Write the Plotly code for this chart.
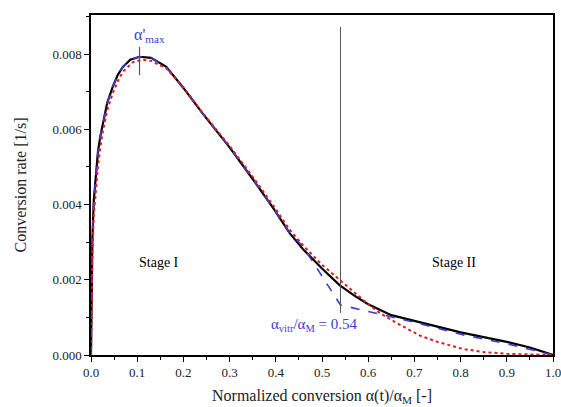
import plotly.graph_objects as go

# Black solid: measured conversion rate
black_x = [0, 0.001, 0.003, 0.006, 0.01, 0.015, 0.02, 0.025, 0.035, 0.047, 0.058, 0.069, 0.085,
           0.105, 0.13, 0.163, 0.2, 0.241, 0.3, 0.35, 0.393, 0.43, 0.46, 0.5, 0.538, 0.57, 0.6,
           0.65, 0.707, 0.8, 0.9, 0.95, 1.0]
black_y = [0, 0.0018, 0.0031, 0.0041, 0.0048, 0.0054, 0.0058, 0.0061, 0.0067, 0.00713, 0.00745,
           0.00766, 0.00785, 0.00793, 0.0079, 0.00766, 0.0071, 0.00643, 0.00552, 0.00468, 0.00393,
           0.00324, 0.0028, 0.0023, 0.00186, 0.00158, 0.00135, 0.00106, 0.00088, 0.0006, 0.00035,
           0.0002, 0]

# Red dotted: model fit
red_x = [0, 0.001, 0.003, 0.006, 0.01, 0.015, 0.02, 0.025, 0.035, 0.047, 0.058, 0.069, 0.09, 0.11,
         0.13, 0.163, 0.2, 0.241, 0.3, 0.35, 0.393, 0.43, 0.46, 0.5, 0.538, 0.57, 0.6, 0.625, 0.65,
         0.711, 0.75, 0.805, 0.85, 0.9, 0.95, 1.0]
red_y = [0, 0.0015, 0.0027, 0.0037, 0.0044, 0.005, 0.0055, 0.0059, 0.0065, 0.00696, 0.00728,
         0.00753, 0.00778, 0.00785, 0.00782, 0.00762, 0.00712, 0.00645, 0.00556, 0.00474, 0.004,
         0.00333, 0.0029, 0.0024, 0.002, 0.00166, 0.00135, 0.00112, 0.00093, 0.00052, 0.00035,
         0.00016, 0.00008, 0.00003, 0.00001, 0]

# Blue dashed: two-stage construction
blue_x = [0, 0.001, 0.003, 0.006, 0.01, 0.015, 0.02, 0.025, 0.035, 0.047, 0.058, 0.069, 0.085,
          0.105, 0.13, 0.163, 0.2, 0.241, 0.3, 0.35, 0.393, 0.43, 0.458, 0.54, 0.647, 0.707, 0.8,
          0.9, 1.0]
blue_y = [0, 0.0018, 0.0031, 0.0041, 0.0048, 0.0054, 0.0058, 0.0061, 0.0067, 0.00713, 0.00745,
          0.00766, 0.00785, 0.00793, 0.0079, 0.00766, 0.0071, 0.00643, 0.00552, 0.00468, 0.00393,
          0.00324, 0.0029, 0.00133, 0.00101, 0.00085, 0.00055, 0.0003, 0]

x_vitr = 0.54
vline_y = [0.00112, 0.00872]
x_amax = 0.105
amax_y = [0.00744, 0.00819]

SERIF = "Liberation Serif, Times New Roman, serif"
BLUE = "#3b3bd0"

fig = go.Figure()
fig.add_trace(go.Scatter(x=black_x, y=black_y, mode="lines",
                         line=dict(color="black", width=2.2)))
fig.add_trace(go.Scatter(x=blue_x, y=blue_y, mode="lines",
                         line=dict(color=BLUE, width=1.6, dash="dash")))
fig.add_trace(go.Scatter(x=red_x, y=red_y, mode="lines",
                         line=dict(color="#d62020", width=2, dash="dot")))
fig.add_trace(go.Scatter(x=[x_vitr, x_vitr], y=vline_y, mode="lines",
                         line=dict(color="#555555", width=1)))
fig.add_trace(go.Scatter(x=[x_amax, x_amax], y=amax_y, mode="lines",
                         line=dict(color="#555555", width=1.2)))

fig.add_annotation(x=0.088, y=0.0085, text="α'<sub>max</sub>", showarrow=False,
                   font=dict(family=SERIF, size=16, color=BLUE), xanchor="left", yanchor="middle")
fig.add_annotation(x=0.148, y=0.00247, text="Stage I", showarrow=False,
                   font=dict(family=SERIF, size=14, color="black"))
fig.add_annotation(x=0.785, y=0.00247, text="Stage II", showarrow=False,
                   font=dict(family=SERIF, size=14, color="black"))
fig.add_annotation(x=0.582, y=0.0008, text="α<sub>vitr</sub>/α<sub>M</sub> = 0.54", showarrow=False,
                   font=dict(family=SERIF, size=15, color=BLUE), xanchor="right", yanchor="middle")

fig.update_layout(
    width=561, height=407,
    margin=dict(l=91, r=8, t=15, b=52),
    paper_bgcolor="white", plot_bgcolor="white",
    showlegend=False,
    font=dict(family=SERIF, size=13, color="#222222"),
)
fig.update_xaxes(
    range=[0, 1], dtick=0.1, tickformat=".1f", automargin=False, ticklabeloverflow="allow",
    showline=True, linecolor="black", linewidth=1.5, mirror=True,
    ticks="outside", ticklen=5, tickwidth=1.2, tickcolor="black",
    minor=dict(dtick=0.05, ticks="outside", ticklen=3, tickcolor="black"),
    showgrid=False, zeroline=False,
    tickfont=dict(family=SERIF, size=13),
    title=dict(text="Normalized conversion α(t)/α<sub>M</sub> [-]",
               font=dict(family=SERIF, size=16), standoff=10),
)
fig.update_yaxes(
    range=[0, 0.00904], dtick=0.002, tickformat=".3f", automargin=False,
    showline=True, linecolor="black", linewidth=1.5, mirror=True,
    ticks="outside", ticklen=5, tickwidth=1.2, tickcolor="black",
    minor=dict(dtick=0.001, ticks="outside", ticklen=3, tickcolor="black"),
    showgrid=False, zeroline=False,
    tickfont=dict(family=SERIF, size=13),
    title=dict(text="Conversion rate [1/s]", font=dict(family=SERIF, size=16), standoff=22),
)

fig.write_html("out.html")
